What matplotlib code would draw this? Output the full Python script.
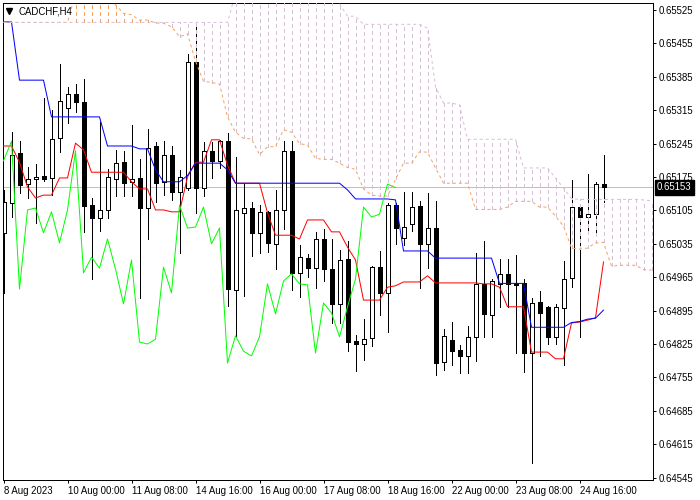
import matplotlib
matplotlib.use("Agg")
import matplotlib.pyplot as plt
import matplotlib.transforms as mtransforms
from matplotlib.patches import Rectangle

plt.rcParams['font.family'] = ['Liberation Sans', 'DejaVu Sans']

symbol_label = "CADCHF,H4"
last_price = 0.65153

x_tick_bars = [0, 8, 16, 24, 32, 40, 48, 56, 64, 72]
x_tick_labels = ["8 Aug 2023", "10 Aug 00:00", "11 Aug 08:00", "14 Aug 16:00", "16 Aug 00:00",
                 "17 Aug 08:00", "18 Aug 16:00", "22 Aug 00:00", "23 Aug 08:00", "24 Aug 16:00"]
y_ticks = [0.65525, 0.65455, 0.65385, 0.65315, 0.65245, 0.65175, 0.65105, 0.65035,
           0.64965, 0.64895, 0.64825, 0.64755, 0.64685, 0.64615, 0.64545]

# prices in points (1e-5)
opens = [65058, 65121, 65225, 65160, 65171, 65177, 65173, 65257, 65320, 65349,
         65332, 65116, 65089, 65106, 65171, 65206, 65165, 65173, 65110, 65240,
         65165, 65221, 65144, 65152, 65416, 65152, 65230, 65209, 65250, 64938,
         65100, 65110, 65058, 65102, 65035, 65106, 65230, 64974, 65005, 64984,
         65045, 64982, 64909, 65003, 64831, 64825, 64838, 64986, 64932, 65116,
         65047, 65077, 65114, 65035, 65068, 64787, 64833, 64812, 64800, 64840,
         64951, 64886, 64951, 64972, 64953, 64953, 64806, 64913, 64903, 64840,
         64900, 64963, 65112, 65091, 65097, 65160]
highs = [65148, 65269, 65250, 65196, 65202, 65341, 65315, 65412, 65364, 65370,
         65380, 65131, 65290, 65192, 65232, 65230, 65284, 65213, 65276, 65248,
         65250, 65240, 65190, 65433, 65489, 65248, 65248, 65253, 65267, 65217,
         65162, 65123, 65116, 65104, 65148, 65250, 65250, 65032, 65014, 65060,
         65066, 65045, 65022, 65041, 64844, 64877, 64988, 65020, 65121, 65121,
         65144, 65144, 65125, 65141, 65125, 64856, 64871, 64823, 64863, 65016,
         65041, 64961, 65003, 65003, 65012, 64961, 64921, 64936, 64905, 64909,
         64999, 65169, 65118, 65181, 65165, 65221]
lows = [64932, 65091, 65141, 65131, 65079, 65167, 65137, 65227, 65288, 65311,
        65060, 64961, 65062, 65089, 65135, 65135, 65135, 64921, 65045, 65123,
        65137, 65127, 65016, 65148, 65100, 65135, 65173, 65194, 64905, 64842,
        64926, 65009, 65016, 65018, 64982, 65066, 64938, 64923, 64965, 64942,
        64957, 64869, 64869, 64810, 64768, 64791, 64821, 64886, 64850, 65035,
        65032, 65062, 64942, 64984, 64760, 64770, 64781, 64764, 64764, 64789,
        64840, 64840, 64903, 64903, 64806, 64766, 64576, 64800, 64825, 64825,
        64781, 64944, 64840, 65058, 65058, 65123]
closes = [65123, 65221, 65158, 65171, 65175, 65171, 65255, 65334, 65349, 65332,
          65114, 65089, 65106, 65175, 65204, 65162, 65171, 65110, 65236, 65162,
          65221, 65144, 65175, 65416, 65152, 65230, 65209, 65250, 64940, 65106,
          65110, 65058, 65102, 65037, 65106, 65230, 64974, 65007, 64984, 65045,
          64982, 64909, 65001, 64829, 64825, 64835, 64986, 64932, 65116, 65068,
          65070, 65112, 65035, 65068, 64785, 64842, 64810, 64800, 64840, 64951,
          64888, 64957, 64972, 64951, 64949, 64806, 64911, 64890, 64840, 64903,
          64961, 65112, 65091, 65097, 65160, 65153]

tenkan = [65240, 65240, 65206, 65154, 65131, 65137, 65137, 65173, 65173, 65246,
          65232, 65185, 65185, 65185, 65185, 65185, 65165, 65150, 65150, 65106,
          65106, 65102, 65102, 65175, 65206, 65206, 65253, 65253, 65200, 65162,
          65162, 65162, 65162, 65100, 65053, 65053, 65053, 65045, 65085, 65085,
          65085, 65060, 65060, 65028, 65001, 64917, 64917, 64917, 64944, 64947,
          64955, 64955, 64955, 64968, 64953, 64953, 64953, 64953, 64953, 64953,
          64951, 64951, 64944, 64903, 64903, 64903, 64808, 64808, 64808, 64794,
          64794, 64869, 64871, 64875, 64880, 64997]
kijun = [65500, 65500, 65378, 65378, 65378, 65378, 65301, 65301, 65301, 65301,
         65301, 65301, 65301, 65240, 65240, 65240, 65240, 65234, 65234, 65190,
         65165, 65165, 65165, 65178, 65204, 65204, 65204, 65204, 65190, 65162,
         65162, 65162, 65162, 65162, 65162, 65162, 65162, 65162, 65162, 65162,
         65162, 65162, 65162, 65148, 65129, 65129, 65129, 65129, 65129, 65127,
         65020, 65020, 65020, 65020, 65005, 65005, 65005, 65005, 65005, 65005,
         65005, 65005, 64952, 64952, 64952, 64952, 64860, 64860, 64860, 64860,
         64860, 64870, 64872, 64877, 64879, 64896]
span_a = [65499, 65499, 65499, 65499, 65499, 65499, 65499, 65499, 65499, 65560,
          65560, 65560, 65560, 65560, 65536, 65518, 65515, 65504, 65504, 65498,
          65497, 65490, 65469, 65475, 65418, 65376, 65373, 65370, 65301, 65269,
          65256, 65255, 65222, 65238, 65239, 65274, 65269, 65245, 65242, 65214,
          65212, 65212, 65204, 65195, 65191, 65150, 65137, 65135, 65135, 65170,
          65204, 65204, 65228, 65227, 65194, 65162, 65162, 65162, 65162, 65107,
          65107, 65107, 65107, 65112, 65124, 65124, 65124, 65112, 65112, 65093,
          65072, 65026, 65024, 65026, 65037, 65038, 64988, 64990, 64990, 64990,
          64981, 64980]
span_b = [65499, 65499, 65499, 65499, 65499, 65499, 65499, 65499, 65499, 65499,
          65499, 65499, 65499, 65499, 65499, 65499, 65499, 65499, 65499, 65499,
          65499, 65499, 65499, 65499, 65499, 65499, 65499, 65499, 65499, 65560,
          65560, 65560, 65560, 65560, 65560, 65560, 65560, 65560, 65560, 65560,
          65560, 65560, 65538, 65512, 65512, 65495, 65495, 65495, 65495, 65495,
          65495, 65495, 65495, 65487, 65364, 65330, 65330, 65326, 65254, 65254,
          65254, 65254, 65254, 65254, 65254, 65194, 65194, 65194, 65194, 65173,
          65152, 65130, 65128, 65128, 65128, 65128, 65128, 65128, 65128, 65128,
          65127, 65125]
chikou_shift = 26

S = 1e-5
o = [v * S for v in opens]
h = [v * S for v in highs]
l = [v * S for v in lows]
c = [v * S for v in closes]
tk = [v * S for v in tenkan]
kj = [v * S for v in kijun]
sa = [v * S for v in span_a]
sb = [v * S for v in span_b]

W, H = 700, 500
fig = plt.figure(figsize=(7, 5), dpi=100)
L, R, T, B = 3, 653, 3, 479.5
ax = fig.add_axes([L / W, 1 - B / H, (R - L) / W, (B - T) / H])

PX = 0.72  # one pixel in points
n = len(o)
xs = list(range(n))

# bid line
ax.axhline(last_price, color='#c0c0c0', lw=PX, zorder=1, antialiased=False)

# candles
for i in xs:
    ax.vlines(i, l[i], h[i], colors='black', lw=PX, zorder=2, antialiased=False)
    lo_, hi_ = min(o[i], c[i]), max(o[i], c[i])
    fc = 'white' if c[i] >= o[i] else 'black'
    ax.add_patch(Rectangle((i - 0.25, lo_), 0.5, max(hi_ - lo_, 1e-7), facecolor=fc,
                           edgecolor='black', lw=PX, zorder=2.5, antialiased=False))

# tenkan / kijun
ax.plot(xs, tk, color='#ff0000', lw=PX, zorder=3)
ax.plot(xs, kj, color='#0000ff', lw=PX, zorder=3)

# cloud hatch
xc = list(range(len(sa)))
for i in xc:
    if sa[i] != sb[i]:
        col = '#F4A460' if sa[i] > sb[i] else '#D8BFD8'
        ax.vlines(i, min(sa[i], sb[i]), max(sa[i], sb[i]), colors=col, lw=PX,
                  linestyles=(0, (3, 3)), zorder=4, antialiased=False)

# chikou
ax.plot(xs[:n - chikou_shift], c[chikou_shift:], color='#00ff00', lw=PX, zorder=5)

# span lines
ax.plot(xc, sa, color='#F4A460', lw=PX, ls=(0, (3, 3)), zorder=6)
ax.plot(xc, sb, color='#D8BFD8', lw=PX, ls=(0, (3, 3)), zorder=6)

x_left = (L - 3.5) / 8
x_right = (R - 3.5) / 8
ax.set_xlim(x_left, x_right)
ax.set_ylim(0.65175 - 2.096e-5 * (B - 177), 0.65175 + 2.096e-5 * (177 - T))

for sp in ax.spines.values():
    sp.set_color('black')
    sp.set_linewidth(PX)
    sp.set_antialiased(False)

ax.yaxis.tick_right()
ax.set_yticks(y_ticks)
ax.set_yticklabels(["%.5f" % v for v in y_ticks])
ax.set_xticks(x_tick_bars)
ax.set_xticklabels(x_tick_labels)
for lbl in ax.get_xticklabels():
    lbl.set_ha('left')
ax.tick_params(axis='both', direction='out', length=2.2, width=PX, colors='black',
               labelsize=6.9, pad=2)
ax.tick_params(axis='x', pad=2.5)

# last price box
trans = mtransforms.blended_transform_factory(ax.transAxes, ax.transData)
ax.text(1.0 + 4 / (R - L), last_price, "%.5f" % last_price, transform=trans,
        color='white', fontsize=6.9, ha='left', va='center', zorder=10, clip_on=False,
        bbox=dict(boxstyle='square,pad=0.25', facecolor='black', edgecolor='black'))

# symbol label
ax.plot([(9 - L) / (R - L)], [1 - (11 - T) / (B - T)], marker='v', color='black',
        markersize=4, transform=ax.transAxes, zorder=10, clip_on=False)
ax.text((18 - L) / (R - L), 1 - (11 - T) / (B - T), symbol_label, transform=ax.transAxes,
        fontsize=6.9, ha='left', va='center', color='black', zorder=10)

fig.savefig("out.png", dpi=100)
